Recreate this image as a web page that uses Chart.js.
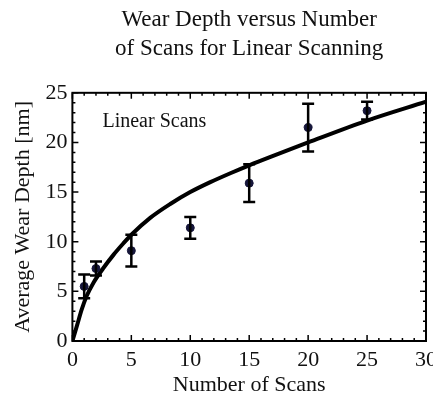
<!DOCTYPE html>
<html><head><meta charset="utf-8">
<script src="https://cdn.jsdelivr.net/npm/chart.js@4/dist/chart.umd.min.js"></script>
<style>html,body{margin:0;padding:0;background:#fff;overflow:hidden}#wrap{width:445px;height:396px}</style>
</head><body><div id="wrap"><canvas id="c"></canvas></div>
<script>
const scans = [1, 2, 5, 10, 15, 20, 25];
const depth = [5.5, 7.3, 9.1, 11.4, 15.9, 21.5, 23.2];
const depthErr = [1.2, 0.7, 1.6, 1.1, 1.9, 2.4, 0.9];
const fitX = [0, 0.4, 0.8, 1.2, 1.8, 2.6, 3.5, 4.3, 5, 6.6, 8.3, 10, 11.7, 13.4, 15, 16.7, 20, 25, 30];
const fitY = [0, 1.6, 3.2, 4.5, 5.9, 7.3, 8.7, 9.8, 10.7, 12.4, 13.8, 15.0, 16.0, 16.9, 17.7, 18.5, 20.0, 22.2, 24.1];
const xTicks = [0, 5, 10, 15, 20, 25, 30];
const yTicks = [0, 5, 10, 15, 20, 25];
const titleLines = ['Wear Depth versus Number', 'of Scans for Linear Scanning'];
const xLabel = 'Number of Scans';
const yLabel = 'Average Wear Depth [nm]';
const note = 'Linear Scans';
const noteAt = [2.55, 22.1];

const SERIF = "'Liberation Serif', 'Times New Roman', serif";
const TXT = '#111';

const framePlugin = {
  id: 'frame',
  afterDatasetsDraw(chart) {
    const {ctx, chartArea: a, scales: {x, y}} = chart;
    ctx.save();
    ctx.strokeStyle = '#000';
    ctx.lineWidth = 1.5;
    ctx.beginPath();
    for (let v = x.min; v <= x.max; v++) {
      const px = x.getPixelForValue(v);
      const L = v % 5 === 0 ? 6 : 3;
      ctx.moveTo(px, a.bottom); ctx.lineTo(px, a.bottom - L);
      ctx.moveTo(px, a.top); ctx.lineTo(px, a.top + L);
    }
    for (let v = y.min; v <= y.max; v++) {
      const py = y.getPixelForValue(v);
      const L = v % 5 === 0 ? 6 : 3;
      ctx.moveTo(a.left, py); ctx.lineTo(a.left + L, py);
      ctx.moveTo(a.right, py); ctx.lineTo(a.right - L, py);
    }
    ctx.stroke();
    ctx.lineWidth = 2;
    ctx.strokeRect(a.left, a.top, a.width, a.height);
    ctx.fillStyle = TXT;
    ctx.font = "20px " + SERIF;
    ctx.textAlign = 'left';
    ctx.textBaseline = 'middle';
    ctx.fillText(note, x.getPixelForValue(noteAt[0]), y.getPixelForValue(noteAt[1]));
    ctx.restore();
  }
};

const errPlugin = {
  id: 'errbars',
  afterDatasetsDraw(chart) {
    const {ctx, scales: {x, y}} = chart;
    ctx.save();
    ctx.strokeStyle = '#000';
    ctx.lineWidth = 2.5;
    ctx.beginPath();
    scans.forEach((s, i) => {
      const px = x.getPixelForValue(s);
      const t = y.getPixelForValue(depth[i] + depthErr[i]);
      const b = y.getPixelForValue(depth[i] - depthErr[i]);
      ctx.moveTo(px, t); ctx.lineTo(px, b);
      ctx.moveTo(px - 6, t); ctx.lineTo(px + 6, t);
      ctx.moveTo(px - 6, b); ctx.lineTo(px + 6, b);
    });
    ctx.stroke();
    ctx.restore();
  }
};

new Chart(document.getElementById('c'), {
  data: {
    datasets: [
      {
        type: 'scatter',
        label: 'Measured',
        data: scans.map((s, i) => ({x: s, y: depth[i]})),
        backgroundColor: '#16163a',
        borderColor: '#16163a',
        pointRadius: 4,
        order: 1
      },
      {
        type: 'line',
        label: 'Fit',
        data: fitX.map((v, i) => ({x: v, y: fitY[i]})),
        borderColor: '#000',
        borderWidth: 4,
        pointRadius: 0,
        fill: false,
        cubicInterpolationMode: 'monotone',
        order: 2
      }
    ]
  },
  options: {
    responsive: true,
    maintainAspectRatio: false,
    animation: false,
    layout: {padding: {left: 6, top: 4, right: 0, bottom: 0}},
    plugins: {
      legend: {display: false},
      tooltip: {enabled: false},
      title: {
        display: true,
        fullSize: false,
        text: titleLines,
        color: TXT,
        font: {family: SERIF, size: 23, weight: 'normal', lineHeight: 1.235},
        padding: {top: 2, bottom: 30}
      }
    },
    scales: {
      x: {
        type: 'linear', min: 0, max: 30,
        afterBuildTicks: s => { s.ticks = xTicks.map(v => ({value: v})); },
        grid: {display: false, drawTicks: false},
        border: {display: false},
        ticks: {color: TXT, font: {family: SERIF, size: 22, lineHeight: 1.0}, padding: 8, maxRotation: 0},
        title: {display: true, text: xLabel, color: TXT, font: {family: SERIF, size: 22, lineHeight: 1.0}, padding: {top: -5, bottom: 0}}
      },
      y: {
        type: 'linear', min: 0, max: 25,
        afterBuildTicks: s => { s.ticks = yTicks.map(v => ({value: v})); },
        grid: {display: false, drawTicks: false},
        border: {display: false},
        ticks: {color: TXT, font: {family: SERIF, size: 22, lineHeight: 1.0}, padding: 5},
        title: {display: true, text: yLabel, color: TXT, font: {family: SERIF, size: 22}, padding: {top: 4, bottom: 4}}
      }
    }
  },
  plugins: [errPlugin, framePlugin]
});
</script>
</body></html>
